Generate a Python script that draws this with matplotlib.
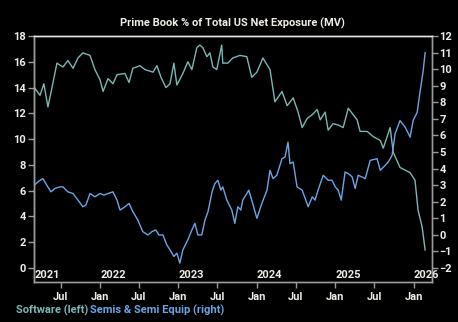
import pandas as pd
import matplotlib.pyplot as plt
import matplotlib.dates as mdates
import matplotlib.transforms as mtransforms

# Software share of total US net exposure (left axis, %)
sw_dates = [
    "2021-03-01", "2021-03-27", "2021-04-14", "2021-05-03", "2021-05-22", "2021-06-14",
    "2021-07-12", "2021-08-04", "2021-08-28", "2021-09-20", "2021-10-13", "2021-11-15",
    "2021-12-08", "2022-01-01", "2022-01-15", "2022-02-07", "2022-03-02", "2022-03-21",
    "2022-04-27", "2022-05-16", "2022-06-03", "2022-07-06", "2022-07-29", "2022-09-05",
    "2022-09-23", "2022-10-12", "2022-11-04", "2022-11-23", "2022-12-11", "2022-12-25",
    "2023-01-22", "2023-02-14", "2023-03-05", "2023-03-28", "2023-04-11", "2023-04-25",
    "2023-05-14", "2023-05-28", "2023-06-11", "2023-06-29", "2023-07-22", "2023-07-27",
    "2023-08-19", "2023-09-12", "2023-10-15", "2023-11-16", "2023-12-09", "2024-01-02",
    "2024-01-30", "2024-03-03", "2024-03-26", "2024-04-28", "2024-05-22", "2024-06-19",
    "2024-07-12", "2024-07-31", "2024-08-23", "2024-09-16", "2024-10-09", "2024-10-23",
    "2024-11-15", "2024-11-29", "2024-12-22", "2025-01-15", "2025-02-07", "2025-03-03",
    "2025-03-21", "2025-04-13", "2025-04-27", "2025-05-30", "2025-06-27", "2025-07-30",
    "2025-08-13", "2025-09-14", "2025-09-28", "2025-10-30", "2025-12-16", "2026-01-08",
    "2026-01-22", "2026-02-10", "2026-02-24",
]
sw_values = [
    14.0, 13.4, 14.3, 12.5, 14.0, 15.9,
    15.6, 16.1, 15.5, 16.3, 16.7, 16.5,
    15.4, 14.6, 13.7, 14.7, 14.3, 15.0,
    15.1, 14.4, 15.5, 15.7, 15.4, 15.2,
    15.7, 14.8, 14.0, 14.3, 15.9, 14.2,
    15.1, 16.0, 15.4, 17.1, 17.3, 17.1,
    16.4, 16.7, 15.6, 15.4, 17.3, 15.9,
    15.9, 16.3, 16.5, 16.4, 14.8, 15.2,
    16.3, 15.4, 12.9, 13.7, 12.6, 13.2,
    12.1, 10.9, 11.6, 11.9, 12.3, 11.5,
    12.1, 10.7, 11.2, 11.1, 10.9, 12.4,
    12.0, 11.5, 10.6, 10.6, 10.2, 9.9,
    9.3, 10.9, 9.0, 7.8, 7.4, 6.8,
    4.5, 3.2, 1.4,
]

# Semis & semi equipment (right axis, %)
semi_dates = [
    "2021-03-01", "2021-03-17", "2021-04-09", "2021-04-28", "2021-05-17", "2021-06-04",
    "2021-06-28", "2021-07-12", "2021-08-04", "2021-08-28", "2021-09-20", "2021-10-13",
    "2021-10-27", "2021-11-15", "2021-12-08", "2022-01-01", "2022-01-19", "2022-02-07",
    "2022-03-02", "2022-03-21", "2022-04-04", "2022-04-27", "2022-05-16", "2022-06-03",
    "2022-06-26", "2022-07-19", "2022-08-12", "2022-08-31", "2022-09-18", "2022-10-02",
    "2022-10-21", "2022-11-08", "2022-11-23", "2022-12-11", "2022-12-25", "2023-01-08",
    "2023-01-22", "2023-02-14", "2023-03-05", "2023-03-19", "2023-04-02", "2023-04-20",
    "2023-05-05", "2023-05-19", "2023-06-07", "2023-06-20", "2023-07-04", "2023-07-18",
    "2023-07-27", "2023-08-15", "2023-09-07", "2023-09-21", "2023-10-05", "2023-10-19",
    "2023-10-28", "2023-11-16", "2023-11-25", "2023-12-09", "2024-01-02", "2024-01-25",
    "2024-02-18", "2024-03-03", "2024-03-17", "2024-04-04", "2024-04-28", "2024-05-12",
    "2024-05-26", "2024-06-04", "2024-06-19", "2024-07-07", "2024-07-31", "2024-08-14",
    "2024-08-28", "2024-09-16", "2024-09-29", "2024-10-13", "2024-11-06", "2024-11-29",
    "2024-12-17", "2025-01-01", "2025-01-15", "2025-01-29", "2025-02-16", "2025-03-03",
    "2025-03-21", "2025-04-04", "2025-04-18", "2025-05-21", "2025-06-13", "2025-07-15",
    "2025-07-30", "2025-08-22", "2025-09-05", "2025-09-23", "2025-10-07", "2025-10-30",
    "2025-11-23", "2025-12-16", "2025-12-30", "2026-01-18", "2026-02-01", "2026-02-15",
    "2026-02-24",
]
semi_values = [
    3.0, 3.2, 3.4, 3.0, 2.6, 2.8,
    2.9, 2.9, 2.6, 2.5, 2.1, 1.7,
    1.8, 2.5, 2.3, 2.5, 2.4, 2.5,
    2.6, 2.1, 1.5, 1.7, 1.9, 1.4,
    0.9, 0.2, 0.0, 0.2, 0.3, 0.0,
    0.0, -0.6, -0.9, -1.3, -1.1, -1.7,
    -0.9, -0.3, 0.3, 0.7, 0.0, 0.0,
    0.9, 1.4, 2.6, 3.1, 3.3, 2.7,
    2.9, 2.1, 1.5, 0.7, 1.7, 1.5,
    2.1, 2.5, 2.7, 2.1, 1.0, 1.9,
    2.7, 3.9, 3.4, 3.6, 4.6, 4.7,
    5.6, 4.3, 4.4, 2.9, 2.7, 2.2,
    1.7, 2.3, 2.1, 2.7, 3.6, 3.3,
    3.3, 2.9, 2.7, 2.1, 3.8, 3.7,
    3.5, 2.8, 3.6, 3.4, 4.5, 4.6,
    3.9, 4.2, 4.4, 4.8, 6.1, 6.9,
    6.5, 5.9, 6.9, 7.4, 8.7, 9.9,
    11.0,
]

year_labels = ["2021", "2022", "2023", "2024", "2025", "2026"]

sw = pd.Series(sw_values, index=pd.to_datetime(sw_dates))
semi = pd.Series(semi_values, index=pd.to_datetime(semi_dates))

SW_COLOR = "#7ab8b4"
SEMI_COLOR = "#6aa6e6"
TEXT = "#f0ece6"
FS = 8
plt.rcParams["font.family"] = ["Roboto", "DejaVu Sans"]
plt.rcParams["font.weight"] = "bold"

fig = plt.figure(figsize=(4.58, 3.22), dpi=100, facecolor="black")
ax = fig.add_axes([0.0742, 0.124, 0.8690, 0.764], facecolor="black")
ax2 = ax.twinx()

ax.plot(sw.index, sw.values, color=SW_COLOR, lw=1.0)
ax2.plot(semi.index, semi.values, color=SEMI_COLOR, lw=1.0)

ax.set_xlim(pd.Timestamp("2021-02-27"), pd.Timestamp("2026-03-28"))
ax.set_ylim(-1.09, 18)
ax2.set_ylim(-2.845, 12)
ax.set_yticks(range(0, 19, 2))
ax2.set_yticks(range(-2, 13, 1))

# half-year ticks below the axis, year labels sit inside the plot
ax.xaxis.set_major_locator(mdates.MonthLocator(bymonth=[1, 7]))
ax.xaxis.set_major_formatter(mdates.DateFormatter("%b"))
trans = mtransforms.blended_transform_factory(ax.transData, ax.transAxes)
for lbl in year_labels:
    x = max(pd.Timestamp(f"{lbl}-01-01"), pd.Timestamp("2021-03-03"))
    ax.text(x, 0.028, lbl, transform=trans, color=TEXT, fontsize=FS,
            fontweight="bold", ha="left", va="center")

for a in (ax, ax2):
    for s in a.spines.values():
        s.set_color("#9a9a9a")
        s.set_linewidth(1.0)
    a.spines["top"].set_color("#e6e6e6")
a_kw = dict(colors=TEXT, labelsize=FS, length=4, width=1.0, color="#9a9a9a")
ax.tick_params(axis="y", pad=1.5, **a_kw)
ax.tick_params(axis="x", pad=3, **a_kw)
ax2.tick_params(axis="y", pad=1.5, **a_kw)
ax.spines["left"].set_color("#d8d8d8")

fig.text(0.507, 0.928, "Prime Book % of Total US Net Exposure (MV)", color=TEXT,
         fontsize=FS, fontweight="bold", ha="center", va="center")
fig.text(0.035, 0.037, "Software (left)", color=SW_COLOR, fontsize=FS,
         fontweight="bold", ha="left", va="center")
fig.text(0.197, 0.037, "Semis & Semi Equip (right)", color=SEMI_COLOR, fontsize=FS,
         fontweight="bold", ha="left", va="center")

fig.savefig("out.png", dpi=100, facecolor="black")
